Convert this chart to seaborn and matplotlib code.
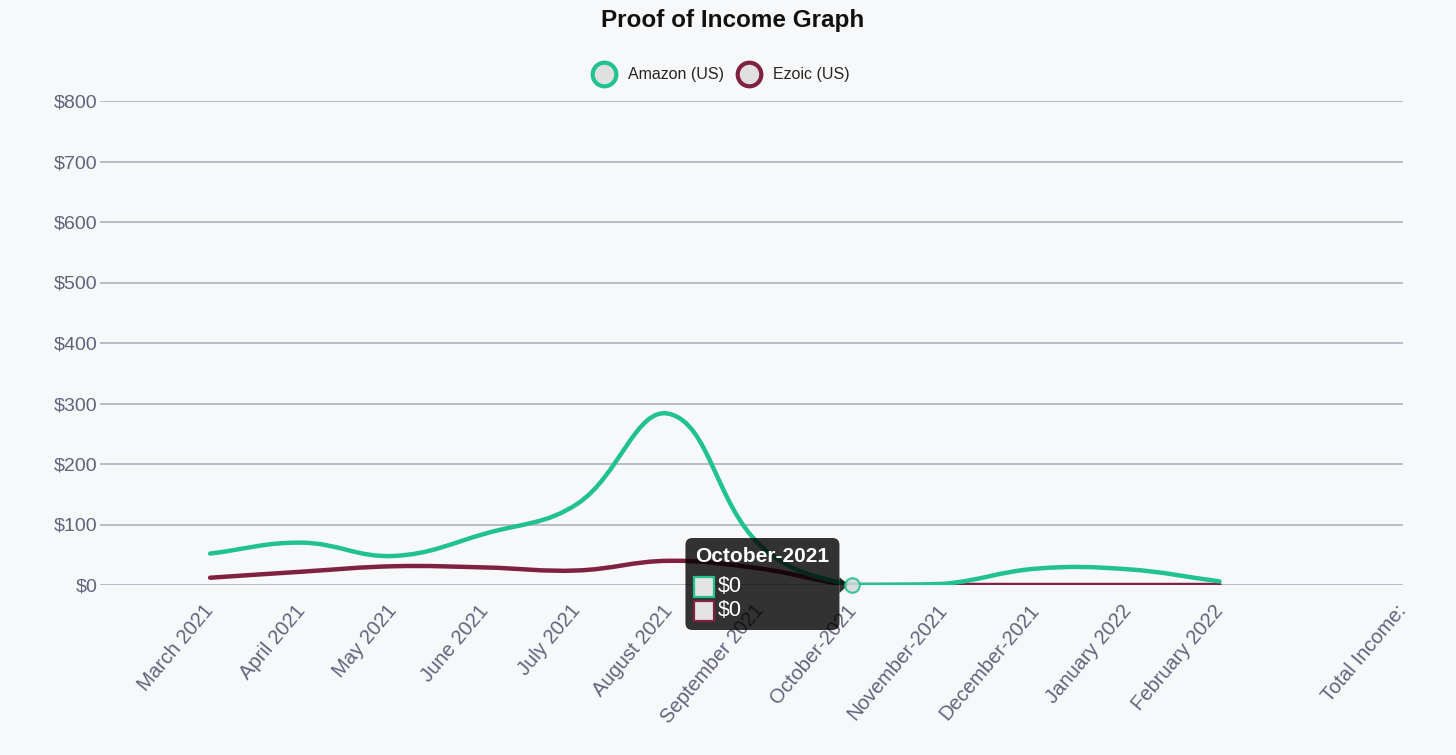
import numpy as np
import matplotlib
matplotlib.use('Agg')
import matplotlib.pyplot as plt
import seaborn as sns
import pandas as pd
from matplotlib.path import Path
from matplotlib.patches import PathPatch, FancyBboxPatch, Polygon, Rectangle
from matplotlib.lines import Line2D
from matplotlib.transforms import IdentityTransform

# ---- data ----
months = ['March 2021', 'April 2021', 'May 2021', 'June 2021', 'July 2021', 'August 2021',
          'September 2021', 'October-2021', 'November-2021', 'December-2021',
          'January 2022', 'February 2022']
total_label = 'Total Income:'
amazon = [52, 70, 48, 85, 134, 283, 65, 0, 2, 27, 26, 6]
ezoic = [12, 22, 31, 29, 24, 40, 27, 0, 0, 0, 0, 0]
y_ticks = [0, 100, 200, 300, 400, 500, 600, 700, 800]
hover_month = 'October-2021'

GREEN = '#21c28f'
MAROON = '#80213f'
BG = '#f7f8fa'
GRID = '#a8aabb'
TICK_TXT = '#62627c'

sns.set_theme(style='white')
plt.rcParams['font.family'] = ['Liberation Sans', 'DejaVu Sans']

W, H, DPI = 1456, 755, 100
fig = plt.figure(figsize=(W / DPI, H / DPI), dpi=DPI, facecolor=BG)
ax = fig.add_axes([100 / W, 1 - 585 / H, (1403 - 100) / W, (585 - 101) / H])
ax.set_facecolor(BG)

df = pd.DataFrame({'month': months, 'pos': np.arange(len(months)),
                   'Amazon (US)': amazon, 'Ezoic (US)': ezoic})
total_pos = len(months) + 1

ax.set_xlim(-1.2, total_pos)
ax.set_ylim(0, 800)


def smooth_path(ax, xs, ys, tension=0.4):
    """Cubic bezier through the points, same control-point rule as a Chart.js line."""
    pts = ax.transData.transform(np.column_stack([xs, ys]).astype(float))
    n = len(pts)
    c_prev, c_next = pts.copy(), pts.copy()
    for i in range(n):
        p0, p1, p2 = pts[max(i - 1, 0)], pts[i], pts[min(i + 1, n - 1)]
        d01 = np.hypot(*(p1 - p0))
        d12 = np.hypot(*(p2 - p1))
        tot = d01 + d12
        s01 = d01 / tot if tot else 0
        s12 = d12 / tot if tot else 0
        c_prev[i] = p1 - tension * s01 * (p2 - p0)
        c_next[i] = p1 + tension * s12 * (p2 - p0)
    y0, y1 = ax.bbox.y0, ax.bbox.y1
    c_prev[:, 1] = np.clip(c_prev[:, 1], y0, y1)
    c_next[:, 1] = np.clip(c_next[:, 1], y0, y1)
    verts, codes = [pts[0]], [Path.MOVETO]
    for i in range(1, n):
        verts += [c_next[i - 1], c_prev[i], pts[i]]
        codes += [Path.CURVE4] * 3
    return Path(ax.transData.inverted().transform(np.array(verts)), codes)


for col, color, z in [('Ezoic (US)', MAROON, 3), ('Amazon (US)', GREEN, 4)]:
    path = smooth_path(ax, df['pos'], df[col])
    ax.add_patch(PathPatch(path, facecolor='none', edgecolor=color, lw=3.2,
                           capstyle='round', joinstyle='round', zorder=z))

# hovered point
hov = df[df['month'] == hover_month]
sns.scatterplot(data=hov, x='pos', y='Amazon (US)', ax=ax, s=110, color='#d5d8da',
                edgecolor=GREEN, linewidth=1.6, alpha=0.85, zorder=7, legend=False, clip_on=False)

# axes styling
ax.set_yticks(y_ticks)
ax.set_yticklabels([f'${v}' for v in y_ticks])
ax.set_xticks(list(df['pos']) + [total_pos])
ax.set_xticklabels(months + [total_label], rotation=50, ha='right', va='center',
                   rotation_mode='anchor')
ax.yaxis.grid(True, color=GRID, lw=1.1)
ax.xaxis.grid(False)
for s in ax.spines.values():
    s.set_visible(False)
ax.tick_params(axis='y', length=0, pad=2, labelsize=14, labelcolor=TICK_TXT)
ax.tick_params(axis='x', length=11, width=1, color='#cfd0d8', pad=5, labelsize=14.5,
               labelcolor=TICK_TXT)
ax.set_xlabel('')
ax.set_ylabel('')

# tooltip
px, py = ax.transData.transform((hov['pos'].iloc[0], 0))
idt = IdentityTransform()
ax.add_patch(FancyBboxPatch((px - 167, py - 45), 154, 92,
                            boxstyle='round,pad=0,rounding_size=7', transform=idt,
                            facecolor=(0, 0, 0, 0.8), edgecolor='none', zorder=6, clip_on=False))
ax.add_patch(Polygon([[px - 13, py + 8], [px - 13, py - 8], [px - 4, py]], closed=True,
                     transform=idt, facecolor=(0, 0, 0, 0.8), edgecolor='none', zorder=6,
                     clip_on=False))
ax.text(px - 157, py + 28, hover_month, transform=idt, color='white', fontsize=15,
        fontweight='bold', va='center', ha='left', zorder=8)
for k, (col, color) in enumerate([('Amazon (US)', GREEN), ('Ezoic (US)', MAROON)]):
    yy = py - 2 - 24 * k
    ax.add_patch(Rectangle((px - 158, yy - 10), 20, 20, transform=idt, facecolor='#e4e4e4',
                           edgecolor=color, lw=1.6, zorder=8, clip_on=False))
    ax.text(px - 135, yy, f'${hov[col].iloc[0]}', transform=idt, color='white',
            fontsize=15.5, va='center', ha='left', zorder=8)

# title + legend
fig.text(733 / W, 1 - 21 / H, 'Proof of Income Graph', ha='center', va='center',
         fontsize=17.5, fontweight='bold', color='#111111')
handles = [Line2D([], [], ls='', marker='o', ms=17, mfc='#e0e0e0', mec=c, mew=3)
           for c in (GREEN, MAROON)]
fig.legend(handles, ['Amazon (US)', 'Ezoic (US)'], loc='center', ncol=2, frameon=False,
           bbox_to_anchor=(723 / W, 1 - 75 / H), fontsize=11.5, handletextpad=1.0,
           columnspacing=1.05, handlelength=1.0)

fig.savefig('out.png', dpi=DPI, facecolor=BG)
